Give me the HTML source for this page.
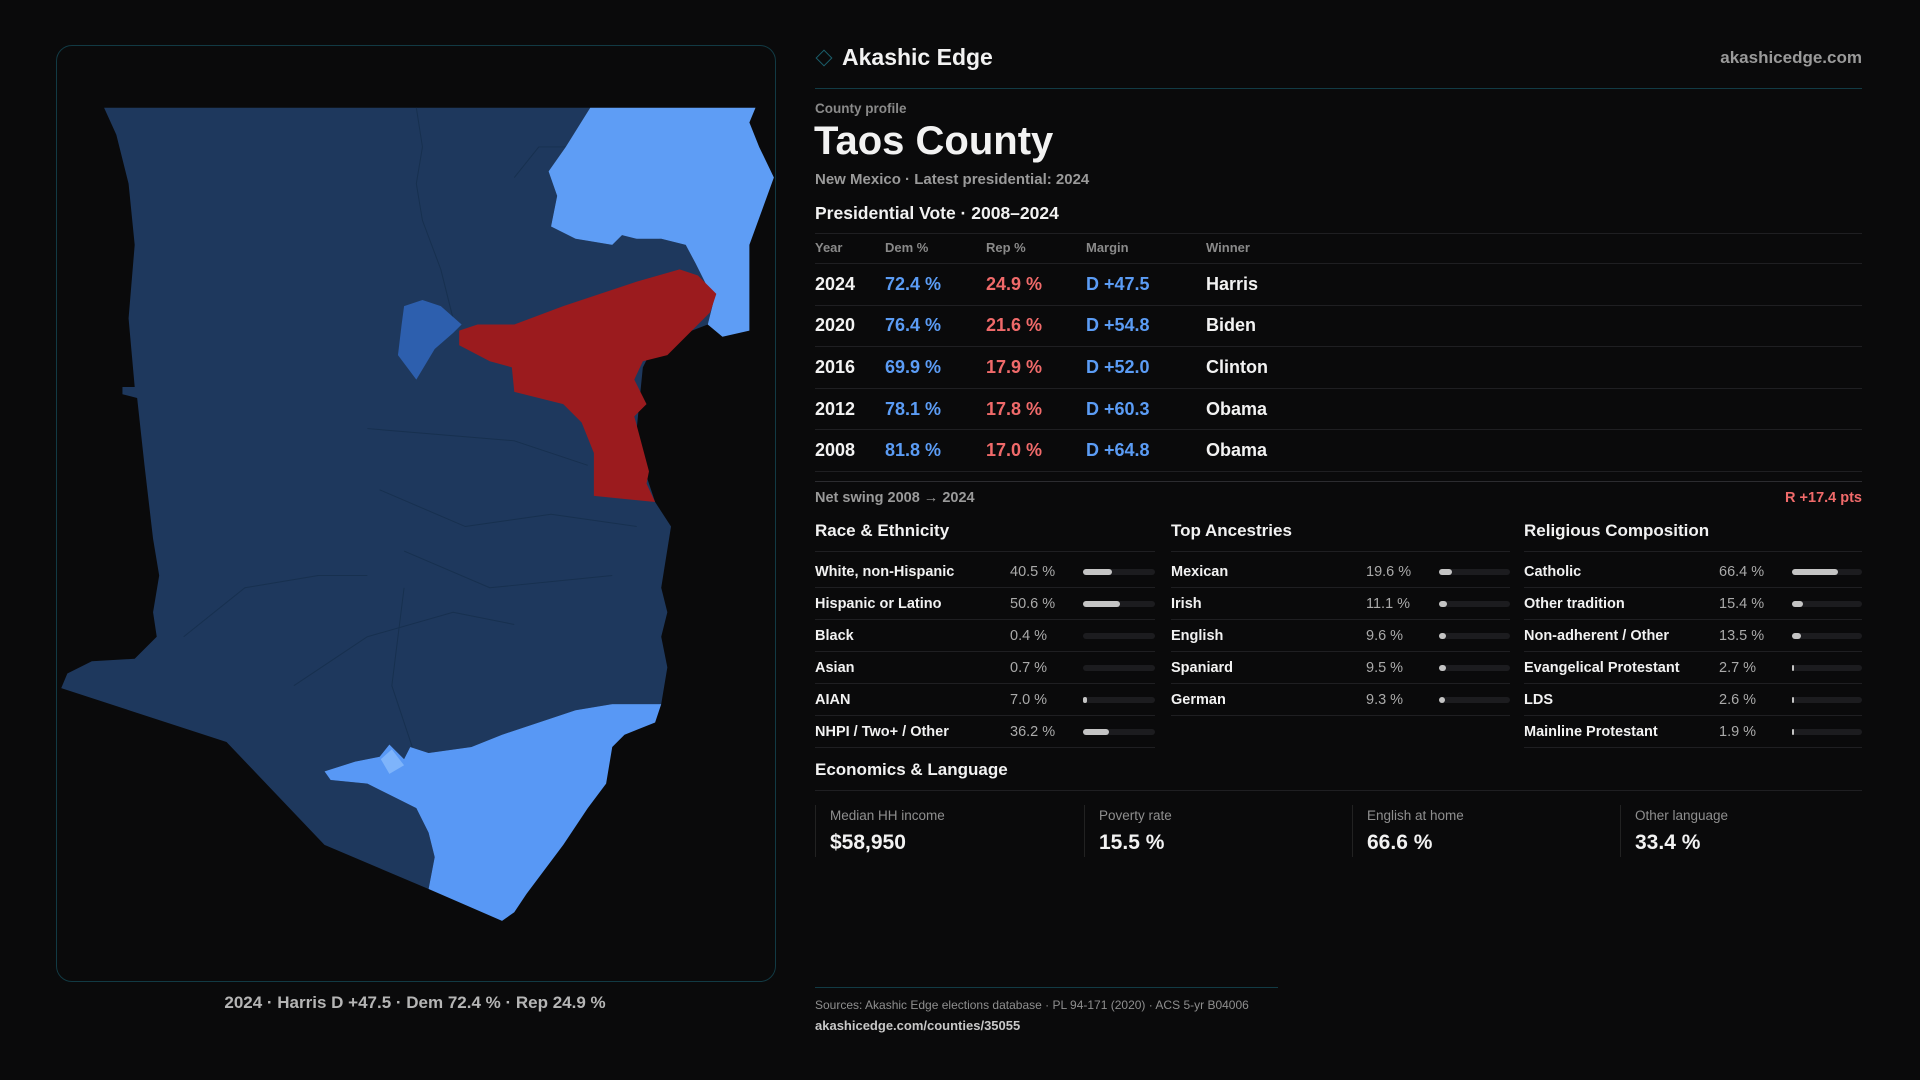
<!DOCTYPE html>
<html><head><meta charset="utf-8"><style>
*{margin:0;padding:0;box-sizing:border-box}
body{width:1920px;height:1080px;background:#0a0a0b;font-family:"Liberation Sans",sans-serif;color:#f2f2f2;position:relative;overflow:hidden}
.a{position:absolute;white-space:nowrap}
.g{color:#9a9a9a}
.line{position:absolute;height:1px;background:#1f1f22}
.bl{color:#5b9cf5}.rd{color:#f06a6a}
.row{position:absolute;left:815px;width:1047px;height:41.6px;font-size:18px;font-weight:bold;display:flex;align-items:center;border-bottom:1px solid #1f1f22}
.row span{position:absolute}
.dr{position:absolute;height:32px;display:flex;align-items:center;font-size:14.5px;border-bottom:1px solid #1f1f22}
.dr .l{position:absolute;left:0;font-weight:bold}
.dr .v{position:absolute;left:195px;color:#aaa}
.dr .t{position:absolute;left:268px;right:0;height:6px;border-radius:3px;background:#1c1c1f}
.dr .f{height:6px;border-radius:3px;background:#c4c4c4}
.st{position:absolute;top:805px;height:52px;border-left:1px solid #222;padding-left:14px}
.st .k{font-size:13.5px;color:#8f8f8f;margin-top:3px}
.st .n{font-size:21px;font-weight:bold;margin-top:8px}
</style></head><body>
<div class="a" style="left:56px;top:45px;width:720px;height:937px;border:1px solid #123a44;border-radius:16px"></div>
<svg class="a" style="left:0;top:0" width="1920" height="1080" viewBox="0 0 1568 882">
<path fill="#1e385d" d="M85,88 L482,88 L462,120 L448,140 L455,160 L450,185 L470,195 L500,200 L508,192 L540,195 L560,200 L568,215 L583,245 L578,265 L560,272 L530,290 L525,300 L520,350 L525,380 L535,410 L548,430 L540,480 L545,500 L540,520 L545,545 L540,575 L500,575 L470,580 L440,590 L410,600 L385,610 L350,615 L335,610 L330,620 L318,608 L310,618 L290,622 L265,630 L270,637 L300,640 L320,650 L340,660 L350,680 L355,700 L350,726 L265,690 L185,606 L50,562 L55,550 L75,540 L110,538 L128,520 L125,500 L130,470 L125,440 L118,380 L112,325 L100,322 L100,316 L110,316 L105,260 L110,200 L105,150 L95,110 Z"/>
<path fill="none" stroke="#17304f" stroke-width="0.8" d="M340,88 L345,120 L340,150 L345,180 L360,220 L370,260 M420,145 L440,120 L480,120 M300,350 L420,360 L480,380 M310,400 L380,430 L450,420 L520,430 M330,450 L400,480 L500,470 M240,560 L300,520 L370,500 L420,510 M150,520 L200,480 L260,470 L300,470 M330,480 L320,560 L340,620"/>
<path fill="#5e9df5" d="M482,88 L617,88 L612,100 L620,120 L632,145 L612,200 L612,240 L612,270 L590,275 L578,265 L583,245 L568,215 L560,200 L540,195 L520,195 L508,192 L500,200 L470,195 L450,185 L455,160 L448,140 L462,120 Z"/>
<path fill="#9b1b1e" d="M375,270 L390,265 L420,265 L460,250 L490,240 L520,230 L555,220 L570,225 L585,240 L580,255 L560,275 L545,290 L525,295 L518,310 L528,330 L518,340 L530,385 L528,395 L535,410 L485,405 L485,370 L475,345 L460,330 L420,320 L418,300 L400,295 L375,282 Z"/>
<path fill="#2d5fae" d="M330,250 L345,245 L360,250 L377,265 L370,272 L355,285 L340,310 L325,290 L328,265 Z"/>
<path fill="#5898f5" d="M265,630 L290,622 L310,618 L318,608 L330,620 L335,610 L350,615 L385,610 L410,600 L440,590 L470,580 L500,575 L540,575 L535,590 L510,600 L500,610 L495,640 L480,660 L460,690 L430,730 L420,745 L410,752 L350,726 L355,700 L350,680 L340,660 L320,650 L300,640 L270,637 Z"/>
<path fill="#7eb4fb" d="M311,620 L320,612 L330,625 L318,632 Z"/>
</svg>
<div class="a" style="left:0;width:830px;top:993px;text-align:center;font-size:17px;font-weight:bold;color:#b5b5b5">2024 · Harris D +47.5 · Dem 72.4 % · Rep 24.9 %</div>

<div class="a" style="left:818px;top:52px;width:12px;height:12px;border:1.5px solid #1b5f6c;transform:rotate(45deg)"></div>
<div class="a" style="left:842px;top:44px;font-size:23px;font-weight:bold">Akashic Edge</div>
<div class="a g" style="right:58px;top:48px;font-size:17px;font-weight:bold">akashicedge.com</div>
<div class="line" style="left:815px;width:1047px;top:88px;background:#123b45"></div>
<div class="a g" style="left:815px;top:101px;font-size:13.5px;font-weight:bold;color:#8a8a8a">County profile</div>
<div class="a" style="left:814px;top:119px;font-size:40px;font-weight:bold">Taos County</div>
<div class="a g" style="left:815px;top:171px;font-size:15px;font-weight:bold">New Mexico · Latest presidential: 2024</div>
<div class="a" style="left:815px;top:203px;font-size:17.5px;font-weight:bold">Presidential Vote · 2008–2024</div>
<div class="line" style="left:815px;width:1047px;top:233px"></div>
<div class="a g" style="left:815px;top:240px;font-size:13px;font-weight:bold;color:#8a8a8a">Year</div>
<div class="a g" style="left:885px;top:240px;font-size:13px;font-weight:bold;color:#8a8a8a">Dem %</div>
<div class="a g" style="left:986px;top:240px;font-size:13px;font-weight:bold;color:#8a8a8a">Rep %</div>
<div class="a g" style="left:1086px;top:240px;font-size:13px;font-weight:bold;color:#8a8a8a">Margin</div>
<div class="a g" style="left:1206px;top:240px;font-size:13px;font-weight:bold;color:#8a8a8a">Winner</div>
<div class="line" style="left:815px;width:1047px;top:263px"></div>
<div class="row" style="top:264px"><span style="left:0">2024</span><span class="bl" style="left:70px">72.4 %</span><span class="rd" style="left:171px">24.9 %</span><span class="bl" style="left:271px">D +47.5</span><span style="left:391px">Harris</span></div>
<div class="row" style="top:305.6px"><span style="left:0">2020</span><span class="bl" style="left:70px">76.4 %</span><span class="rd" style="left:171px">21.6 %</span><span class="bl" style="left:271px">D +54.8</span><span style="left:391px">Biden</span></div>
<div class="row" style="top:347.2px"><span style="left:0">2016</span><span class="bl" style="left:70px">69.9 %</span><span class="rd" style="left:171px">17.9 %</span><span class="bl" style="left:271px">D +52.0</span><span style="left:391px">Clinton</span></div>
<div class="row" style="top:388.8px"><span style="left:0">2012</span><span class="bl" style="left:70px">78.1 %</span><span class="rd" style="left:171px">17.8 %</span><span class="bl" style="left:271px">D +60.3</span><span style="left:391px">Obama</span></div>
<div class="row" style="top:430.4px"><span style="left:0">2008</span><span class="bl" style="left:70px">81.8 %</span><span class="rd" style="left:171px">17.0 %</span><span class="bl" style="left:271px">D +64.8</span><span style="left:391px">Obama</span></div>
<div class="line" style="left:815px;width:1047px;top:481px;background:#2c2c30"></div>
<div class="a g" style="left:815px;top:490px;font-size:14.5px;font-weight:bold">Net swing 2008 → 2024</div>
<div class="a rd" style="right:58px;top:490px;font-size:14.5px;font-weight:bold">R +17.4 pts</div>

<div class="a" style="left:815px;top:521px;font-size:17px;font-weight:bold">Race &amp; Ethnicity</div>
<div class="a" style="left:1171px;top:521px;font-size:17px;font-weight:bold">Top Ancestries</div>
<div class="a" style="left:1524px;top:521px;font-size:17px;font-weight:bold">Religious Composition</div>
<div class="line" style="left:815px;width:340px;top:551px"></div>
<div class="line" style="left:1171px;width:339px;top:551px"></div>
<div class="line" style="left:1524px;width:338px;top:551px"></div>

<div class="dr" style="left:815px;width:340px;top:556px"><span class="l">White, non-Hispanic</span><span class="v">40.5 %</span><div class="t"><div class="f" style="width:40%"></div></div></div>
<div class="dr" style="left:815px;width:340px;top:588px"><span class="l">Hispanic or Latino</span><span class="v">50.6 %</span><div class="t"><div class="f" style="width:51%"></div></div></div>
<div class="dr" style="left:815px;width:340px;top:620px"><span class="l">Black</span><span class="v">0.4 %</span><div class="t"></div></div>
<div class="dr" style="left:815px;width:340px;top:652px"><span class="l">Asian</span><span class="v">0.7 %</span><div class="t"></div></div>
<div class="dr" style="left:815px;width:340px;top:684px"><span class="l">AIAN</span><span class="v">7.0 %</span><div class="t"><div class="f" style="width:6%"></div></div></div>
<div class="dr" style="left:815px;width:340px;top:716px"><span class="l">NHPI / Two+ / Other</span><span class="v">36.2 %</span><div class="t"><div class="f" style="width:36%"></div></div></div>

<div class="dr" style="left:1171px;width:339px;top:556px"><span class="l">Mexican</span><span class="v">19.6 %</span><div class="t"><div class="f" style="width:19%"></div></div></div>
<div class="dr" style="left:1171px;width:339px;top:588px"><span class="l">Irish</span><span class="v">11.1 %</span><div class="t"><div class="f" style="width:11%"></div></div></div>
<div class="dr" style="left:1171px;width:339px;top:620px"><span class="l">English</span><span class="v">9.6 %</span><div class="t"><div class="f" style="width:10%"></div></div></div>
<div class="dr" style="left:1171px;width:339px;top:652px"><span class="l">Spaniard</span><span class="v">9.5 %</span><div class="t"><div class="f" style="width:10%"></div></div></div>
<div class="dr" style="left:1171px;width:339px;top:684px"><span class="l">German</span><span class="v">9.3 %</span><div class="t"><div class="f" style="width:9%"></div></div></div>

<div class="dr" style="left:1524px;width:338px;top:556px"><span class="l">Catholic</span><span class="v">66.4 %</span><div class="t"><div class="f" style="width:66%"></div></div></div>
<div class="dr" style="left:1524px;width:338px;top:588px"><span class="l">Other tradition</span><span class="v">15.4 %</span><div class="t"><div class="f" style="width:15%"></div></div></div>
<div class="dr" style="left:1524px;width:338px;top:620px"><span class="l">Non-adherent / Other</span><span class="v">13.5 %</span><div class="t"><div class="f" style="width:13%"></div></div></div>
<div class="dr" style="left:1524px;width:338px;top:652px"><span class="l">Evangelical Protestant</span><span class="v">2.7 %</span><div class="t"><div class="f" style="width:2px"></div></div></div>
<div class="dr" style="left:1524px;width:338px;top:684px"><span class="l">LDS</span><span class="v">2.6 %</span><div class="t"><div class="f" style="width:2px"></div></div></div>
<div class="dr" style="left:1524px;width:338px;top:716px"><span class="l">Mainline Protestant</span><span class="v">1.9 %</span><div class="t"><div class="f" style="width:2px"></div></div></div>

<div class="a" style="left:815px;top:760px;font-size:17px;font-weight:bold">Economics &amp; Language</div>
<div class="line" style="left:815px;width:1047px;top:790px"></div>
<div class="st" style="left:815px"><div class="k">Median HH income</div><div class="n">$58,950</div></div>
<div class="st" style="left:1084px"><div class="k">Poverty rate</div><div class="n">15.5 %</div></div>
<div class="st" style="left:1352px"><div class="k">English at home</div><div class="n">66.6 %</div></div>
<div class="st" style="left:1620px"><div class="k">Other language</div><div class="n">33.4 %</div></div>

<div class="line" style="left:815px;width:463px;top:987px;background:#123b45"></div>
<div class="a" style="left:815px;top:998px;font-size:12px;color:#8f8f8f">Sources: Akashic Edge elections database · PL 94-171 (2020) · ACS 5-yr B04006</div>
<div class="a" style="left:815px;top:1018px;font-size:13px;color:#c8c8c8;font-weight:bold">akashicedge.com/counties/35055</div>
</body></html>
